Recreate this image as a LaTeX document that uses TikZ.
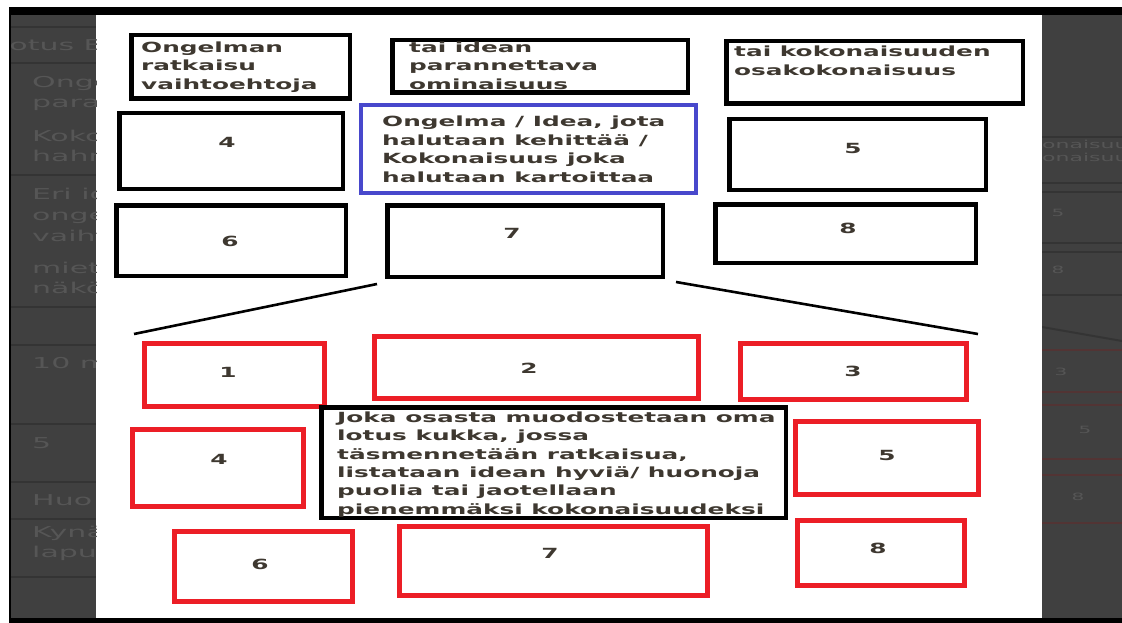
\documentclass[tikz,border=0pt]{standalone}
\usepackage{fontspec}
\newfontfamily\widesans[FakeStretch=1.77]{DejaVu Sans Bold}
\newfontfamily\dimsans[FakeStretch=2.0]{DejaVu Sans}
\newcommand\lotustext{\widesans\fontsize{14}{18.4}\selectfont}
\newcommand\lotusnum{\widesans\fontsize{14}{16}\selectfont}
\newcommand\dimtext{\dimsans\fontsize{15}{18}\selectfont}
\newcommand\dimsmall{\dimsans\fontsize{11}{13}\selectfont}
\newcommand\dimnum{\dimsans\fontsize{10}{12}\selectfont}
\definecolor{ink}{RGB}{62,56,48}
\definecolor{lotusred}{RGB}{236,30,38}
\definecolor{ideablue}{RGB}{72,72,204}
\definecolor{dimbg}{RGB}{64,64,64}
\definecolor{dimink}{RGB}{86,86,86}
\definecolor{dimline}{RGB}{52,52,52}
\definecolor{dimred}{RGB}{82,52,52}
\begin{document}
\begin{tikzpicture}[x=1pt,y=-1pt,
  blk/.style={draw=black, line width=4.5pt, rectangle, inner sep=0pt},
  bluebox/.style={draw=ideablue, line width=4pt, rectangle, inner sep=0pt},
  redbox/.style={draw=lotusred, line width=5pt, rectangle, inner sep=0pt},
  num/.style={font=\lotusnum, text=ink, inner sep=0pt},
  para/.style={font=\lotustext, text=ink, align=left, anchor=north west, inner sep=0pt},
  link/.style={draw=black, line width=2.6pt},
  dimword/.style={font=\dimtext, text=dimink, anchor=base west, inner sep=0pt},
  dimsmallword/.style={font=\dimsmall, text=dimink, anchor=base west, inner sep=0pt},
  dimdigit/.style={font=\dimnum, text=dimink, inner sep=0pt},
  rowline/.style={draw=dimline, line width=1.4pt},
  redrow/.style={draw=dimred, line width=1.4pt}
]
\useasboundingbox (0,0) rectangle (1122,623);
\fill[white] (0,0) rectangle (1122,623);

% dimmed page behind the panel, left strip
\fill[dimbg] (11,15) rectangle (96,618);
\begin{scope}
  \clip (11,15) rectangle (96,618);
  \foreach \yy in {27,63,175,307,345,424,482,519,577}
    \draw[rowline] (11,\yy) -- (96,\yy);
  \node[dimword] (h0) at (-7,51) {Lotus B};
  \node[dimword] (r1a) at (32,88) {Ongel};
  \node[dimword] (r1b) at (32,108) {para};
  \node[dimword] (r2a) at (32,142) {Koko};
  \node[dimword] (r2b) at (32,162) {hahm};
  \node[dimword] (r3a) at (32,200) {Eri id};
  \node[dimword] (r3b) at (32,220) {onge};
  \node[dimword] (r3c) at (32,241) {vaiht};
  \node[dimword] (r4a) at (32,273) {miet};
  \node[dimword] (r4b) at (32,293) {näkö};
  \node[dimword] (r5) at (32,368) {10 m};
  \node[dimword] (r6) at (32,448) {5};
  \node[dimword] (r7) at (32,505) {Huo};
  \node[dimword] (r8a) at (32,537) {Kynä};
  \node[dimword] (r8b) at (32,557) {lapu};
\end{scope}

% dimmed page behind the panel, right strip
\fill[dimbg] (1042,15) rectangle (1122,618);
\begin{scope}
  \clip (1042,15) rectangle (1122,618);
  \foreach \yy in {137,183,192,243,252,295}
    \draw[rowline] (1042,\yy) -- (1122,\yy);
  \foreach \yy in {350,392,405,459,475,523}
    \draw[redrow] (1042,\yy) -- (1122,\yy);
  \node[dimsmallword] (s1) at (1030,149) {konaisuuden};
  \node[dimsmallword] (s2) at (1030,162) {konaisuus};
  \node[dimdigit] (d5a) at (1058,213) {5};
  \node[dimdigit] (d8a) at (1058,270) {8};
  \node[dimdigit] (d3) at (1061,372) {3};
  \node[dimdigit] (d5b) at (1085,430) {5};
  \node[dimdigit] (d8b) at (1078,497) {8};
  \coordinate (dimfanA) at (1042,327);
  \coordinate (dimfanB) at (1122,341);
  \draw[draw=dimline, line width=2pt] (dimfanA) -- (dimfanB);
\end{scope}

% window frame
\fill[black] (9,7) rectangle (1122,15);
\fill[black] (9,7) rectangle (11,623);
\fill[black] (9,618) rectangle (1122,623);

% upper lotus: headings
\node[blk, minimum width=218.5pt, minimum height=63.5pt] (head1) at (240.5,67) {};
\node[blk, minimum width=295.5pt, minimum height=52.5pt] (head2) at (540,66.5) {};
\node[blk, minimum width=296.5pt, minimum height=62.5pt] (head3) at (874.5,72.5) {};
\node[para] (head1t) at (141,41.5) {Ongelman\\ratkaisu\\vaihtoehtoja};
\node[para] (head2t) at (409,41.5) {tai idean\\parannettava\\ominaisuus};
\node[para] (head3t) at (734,46) {tai kokonaisuuden\\osakokonaisuus};

% upper lotus: centre and petals
\node[bluebox, minimum width=335pt, minimum height=88pt] (core) at (528.5,149) {};
\node[para] (coret) at (382,116) {Ongelma / Idea, jota\\halutaan kehittää /\\Kokonaisuus joka\\halutaan kartoittaa};
\node[blk, minimum width=223.5pt, minimum height=75.5pt] (u4) at (231,151) {};
\node[blk, minimum width=256.5pt, minimum height=70.5pt] (u5) at (857.5,154.5) {};
\node[blk, minimum width=229.5pt, minimum height=70.5pt] (u6) at (231,240.5) {};
\node[blk, minimum width=275.5pt, minimum height=71.5pt] (u7) at (525,241) {};
\node[blk, minimum width=260.5pt, minimum height=58.5pt] (u8) at (845.5,233.5) {};
\node[num] (u4n) at (227,142) {4};
\node[num] (u5n) at (853,148) {5};
\node[num] (u6n) at (230,241) {6};
\node[num] (u7n) at (512,233) {7};
\node[num] (u8n) at (848,228) {8};

% fan from petal 7 down to its own lotus
\coordinate (fanL0) at (377,284);
\coordinate (fanL1) at (134,334);
\coordinate (fanR0) at (676,282);
\coordinate (fanR1) at (978,334);
\draw[link] (fanL0) -- (fanL1);
\draw[link] (fanR0) -- (fanR1);

% lower lotus
\node[redbox, minimum width=180pt, minimum height=63pt] (p1) at (234.5,375) {};
\node[redbox, minimum width=324pt, minimum height=62pt] (p2) at (536.5,367.5) {};
\node[redbox, minimum width=226pt, minimum height=56pt] (p3) at (853.5,371.5) {};
\node[redbox, minimum width=171pt, minimum height=77pt] (p4) at (218,468) {};
\node[redbox, minimum width=183pt, minimum height=73pt] (p5) at (887,458) {};
\node[redbox, minimum width=178pt, minimum height=70pt] (p6) at (263.5,566.5) {};
\node[redbox, minimum width=308pt, minimum height=69pt] (p7) at (553.5,561) {};
\node[redbox, minimum width=167pt, minimum height=65pt] (p8) at (881,553) {};
\node[num] (p1n) at (228,372) {1};
\node[num] (p2n) at (529,368) {2};
\node[num] (p3n) at (853,371) {3};
\node[num] (p4n) at (219,459) {4};
\node[num] (p5n) at (887,455) {5};
\node[num] (p6n) at (260,564) {6};
\node[num] (p7n) at (550,553) {7};
\node[num] (p8n) at (878,548) {8};

% explanation in the middle of the lower lotus
\node[blk, fill=white, minimum width=464.5pt, minimum height=110.5pt] (note) at (553.5,462.5) {};
\node[para] (notet) at (337,411.5) {Joka osasta muodostetaan oma\\lotus kukka, jossa\\täsmennetään ratkaisua,\\listataan idean hyviä/ huonoja\\puolia tai jaotellaan\\pienemmäksi kokonaisuudeksi};
\end{tikzpicture}
\end{document}
